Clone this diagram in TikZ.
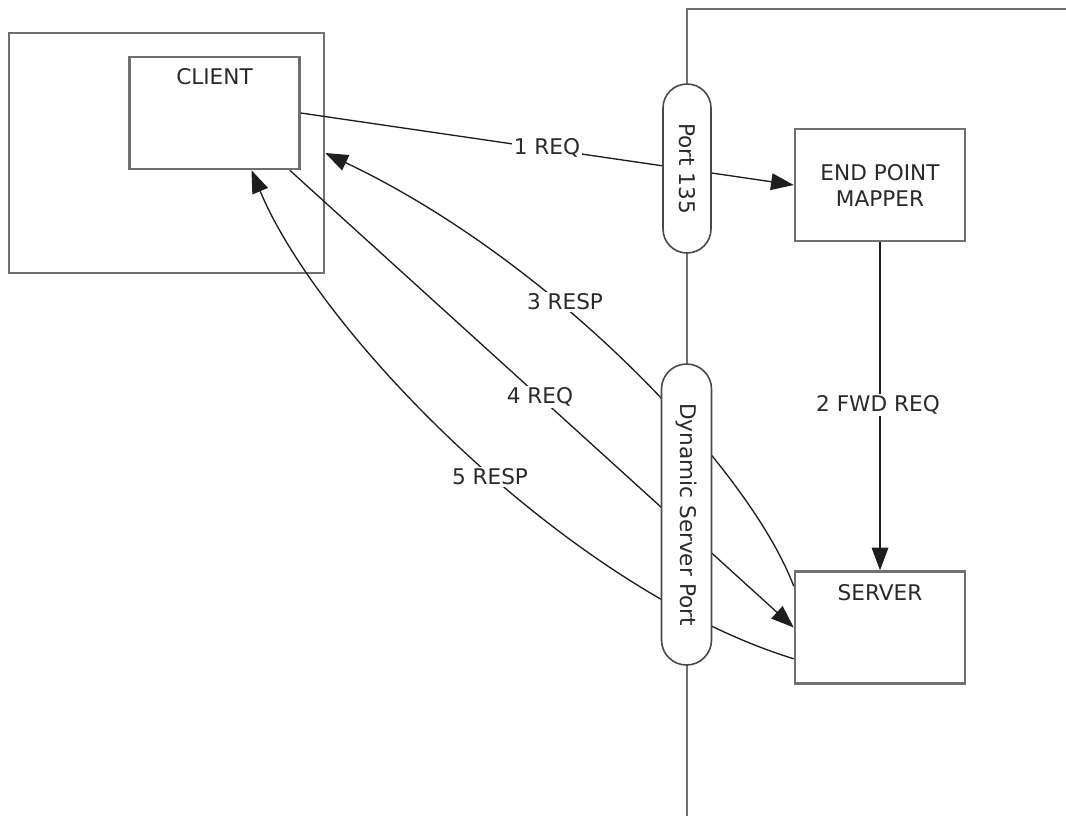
\documentclass[tikz,border=0pt]{standalone}
\usepackage{fontspec}
\setmainfont{DejaVu Sans}
\usetikzlibrary{arrows.meta,calc,shapes.misc}
\definecolor{boxgray}{HTML}{707070}
\definecolor{txt}{HTML}{2A2A2A}
\definecolor{linec}{HTML}{1E1E1E}
\definecolor{pillc}{HTML}{4A4A4A}
\begin{document}
\begin{tikzpicture}[x=0.75pt,y=-0.75pt,
  every node/.style={font=\fontsize{16.2pt}{19.5pt}\selectfont, text=txt},
  boxnode/.style={draw=boxgray, line width=1.9pt, fill=white, inner sep=0pt},
  pill/.style={draw=pillc, line width=1.2pt, fill=white, rounded rectangle, inner sep=0pt, rotate=-90},
  conn/.style={draw=linec, line width=1pt},
  arr/.style={-{Triangle[length=17pt,width=12.5pt]}},
  lbl/.style={fill=white, inner sep=1.5pt},
  wall/.style={draw=boxgray, line width=1.9pt}
]
\useasboundingbox (0,0) rectangle (1066,815);

% right-hand machine boundary and port line
\draw[wall] (1070,9) -- (687,9) -- (687,820);

% boxes
\node[boxnode, minimum width=236.25pt, minimum height=180pt] (clientpc) at (166.5,153) {};
\node[boxnode, minimum width=127.5pt, minimum height=84pt,
      label={[anchor=north, inner sep=0pt, yshift=-9.5pt, text=txt]north:CLIENT}] (client) at (214.5,113) {};
\node[boxnode, minimum width=127.5pt, minimum height=84pt, align=center] (epm) at (880,185) {END POINT\\MAPPER};
\node[boxnode, minimum width=127.5pt, minimum height=84pt,
      label={[anchor=north, inner sep=0pt, yshift=-10.5pt, text=txt]north:SERVER}] (server) at (880,627.5) {};

% connectors
\draw[conn, arr] (client.east) -- (epm.west);
\draw[conn, arr] (epm.south) -- (server.north);
\draw[conn, arr] ($(server.north west)+(0,16)$) .. controls (750,470) and (555,262) .. (clientpc.east);
\draw[conn, arr] ($(client.south east)+(-11,0)$) -- (server.west);
\draw[conn, arr] ($(server.south west)+(0,-26)$) .. controls (570,590) and (320,335) .. ($(client.south)+(37,0)$);

% ports
\node[pill, minimum width=126.75pt, minimum height=36pt] (p135) at (687,168.5) {Port 135};
\node[pill, minimum width=225.75pt, minimum height=37.5pt] (dyn) at (686.5,514.5) {Dynamic Server Port};

% labels
\node[lbl] (l1) at (547,148) {1 REQ};
\node[lbl] (l2) at (878,405) {2 FWD REQ};
\node[lbl] (l3) at (565,302) {3 RESP};
\node[lbl] (l4) at (540,397) {4 REQ};
\node[lbl] (l5) at (490,477) {5 RESP};
\end{tikzpicture}
\end{document}
